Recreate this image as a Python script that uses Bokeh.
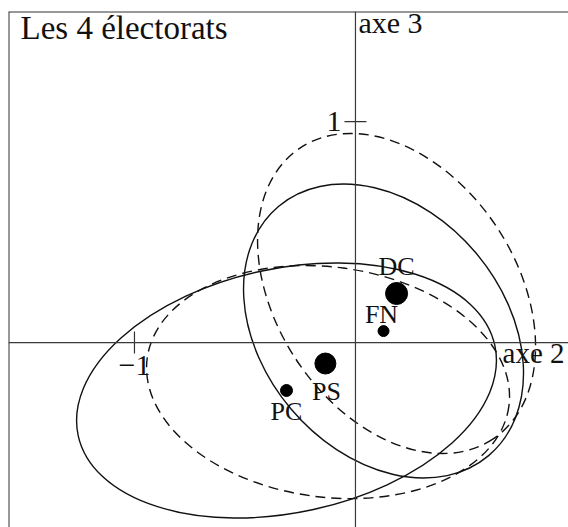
from bokeh.plotting import figure
from bokeh.models import Range1d, Span, Label, ColumnDataSource
from bokeh.embed import file_html
from bokeh.resources import INLINE

# ---- data (plane axe 2 / axe 3) ----
parties = ["DC", "FN", "PS", "PC"]
axe2 = [0.186, 0.127, -0.136, -0.312]
axe3 = [0.222, 0.052, -0.095, -0.217]

# dispersion ellipses: centre, full width, full height, angle (rad)
ell_names = ["PC", "FN", "PS", "DC"]
ell_cx = [-0.312, 0.127, -0.124, 0.186]
ell_cy = [-0.217, 0.052, -0.179, 0.222]
ell_w = [1.929, 1.475, 1.651, 1.580]
ell_h = [1.105, 1.095, 1.041, 1.088]
ell_angle = [0.213, -0.870, -0.131, -0.987]
ell_dash = ["solid", "solid", "10 6", "10 6"]

x_ticks = [-1]
x_tick_labels = ["\u22121"]
y_ticks = [1]
y_tick_labels = ["1"]

title_text = "Les 4 \u00e9lectorats"

# ---- styles ----
SERIF = "Liberation Serif"
dot_size = {"DC": 22, "FN": 11, "PS": 21, "PC": 12}
lab_off = {"DC": (0, 27), "FN": (-2, 17), "PS": (1, -28), "PC": (0, -21)}

X0, X1 = -1.570, 0.964
Y0, Y1 = -0.837, 1.498

p = figure(width=568, height=527, output_backend="svg", toolbar_location=None,
           x_range=Range1d(X0, X1), y_range=Range1d(Y0, Y1),
           x_axis_location=None, y_axis_location=None,
           min_border_left=8, min_border_right=0, min_border_top=11, min_border_bottom=0)
p.grid.visible = False
p.outline_line_color = None
p.background_fill_color = "white"
p.border_fill_color = "white"

# frame (left and top) and the two axes through the origin
p.add_layout(Span(location=X0, dimension="height", line_color="#333333", line_width=2))
p.add_layout(Span(location=Y1, dimension="width", line_color="#333333", line_width=2))
p.add_layout(Span(location=0, dimension="width", line_color="#3a3a3a", line_width=1.2))
p.add_layout(Span(location=0, dimension="height", line_color="#3a3a3a", line_width=1.2))

# ticks
p.scatter(x=x_ticks, y=[0] * len(x_ticks), marker="dash", size=22, angle=1.5708,
          line_color="#333333", line_width=1.2)
p.scatter(x=[0] * len(y_ticks), y=y_ticks, marker="dash", size=22,
          line_color="#333333", line_width=1.2)
for t, s in zip(x_ticks, x_tick_labels):
    p.add_layout(Label(x=t, y=0, text=s, text_align="center", text_baseline="middle",
                       y_offset=-23, text_font=SERIF, text_font_size="30px", text_color="#111111"))
for t, s in zip(y_ticks, y_tick_labels):
    p.add_layout(Label(x=0, y=t, text=s, text_align="right", text_baseline="middle",
                       x_offset=-14, text_font=SERIF, text_font_size="30px", text_color="#111111"))

# ellipses
for i in range(len(ell_names)):
    p.ellipse(x=[ell_cx[i]], y=[ell_cy[i]], width=[ell_w[i]], height=[ell_h[i]],
              angle=[ell_angle[i]], fill_color=None, line_color="#111111",
              line_width=1.4, line_dash=ell_dash[i])

# points
src = ColumnDataSource(dict(x=axe2, y=axe3, name=parties,
                            size=[dot_size[n] for n in parties]))
p.scatter(x="x", y="y", size="size", source=src, fill_color="black", line_color="black")
for n, x, y in zip(parties, axe2, axe3):
    dx, dy = lab_off[n]
    p.add_layout(Label(x=x, y=y, text=n, text_align="center", text_baseline="middle",
                       x_offset=dx, y_offset=dy, text_font=SERIF, text_font_size="26px",
                       text_color="#111111"))

# axis names and title
p.add_layout(Label(x=0, y=Y1, text="axe 3", text_align="left", text_baseline="middle",
                   x_offset=3, y_offset=-11, text_font=SERIF, text_font_size="30px",
                   text_color="#111111"))
p.add_layout(Label(x=X1, y=0, text="axe 2", text_align="right", text_baseline="middle",
                   x_offset=-4, y_offset=-10, text_font=SERIF, text_font_size="29px",
                   text_color="#111111"))
p.add_layout(Label(x=X0, y=Y1, text=title_text, text_align="left", text_baseline="middle",
                   x_offset=12, y_offset=-16, text_font=SERIF, text_font_size="33px",
                   text_color="#111111"))

open("out.html", "w").write(file_html(p, INLINE))
